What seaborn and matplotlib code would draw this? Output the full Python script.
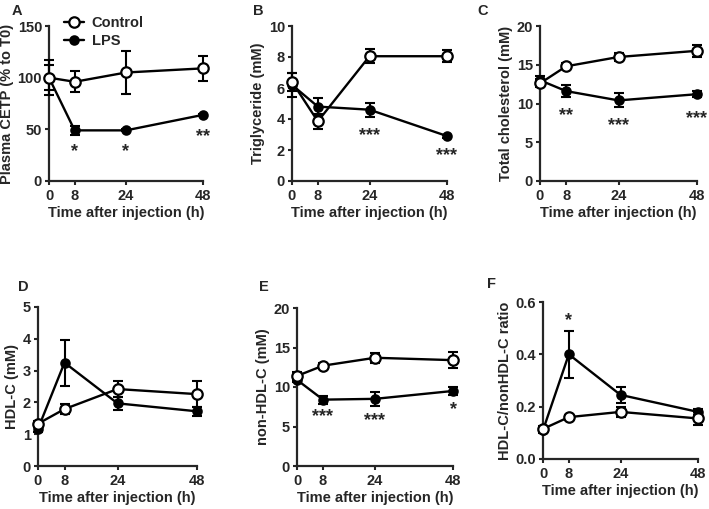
import numpy as np
import pandas as pd
import matplotlib.pyplot as plt
import seaborn as sns

sns.set_style("ticks")
plt.rcParams['font.family'] = ['Liberation Sans', 'DejaVu Sans']
plt.rcParams['font.weight'] = 'bold'
plt.rcParams['axes.labelweight'] = 'bold'
plt.rcParams['font.size'] = 9

# time points (h)
time_h = [0, 8, 24, 48]

# A - plasma CETP (% to T0)
cetp_ctrl = [100, 96, 105, 109]
cetp_ctrl_sd = [17, 10, 21, 12]
cetp_lps = [100, 49, 49, 64]
cetp_lps_sd = [12, 4, 1, 1]

# B - triglyceride (mM)
tg_ctrl = [6.4, 3.85, 8.05, 8.05]
tg_ctrl_sd = [0.6, 0.5, 0.45, 0.4]
tg_lps = [6.2, 4.8, 4.6, 2.9]
tg_lps_sd = [0.75, 0.55, 0.45, 0.1]

# C - total cholesterol (mM)
tc_ctrl = [12.6, 14.8, 16.0, 16.8]
tc_ctrl_sd = [0.5, 0.4, 0.5, 0.8]
tc_lps = [13.0, 11.6, 10.4, 11.2]
tc_lps_sd = [0.6, 0.8, 0.9, 0.4]

# D - HDL-C (mM)
hdl_ctrl = [1.33, 1.79, 2.42, 2.26]
hdl_ctrl_sd = [0.1, 0.15, 0.25, 0.4]
hdl_lps = [1.17, 3.25, 1.97, 1.72]
hdl_lps_sd = [0.1, 0.72, 0.2, 0.15]

# E - non-HDL-C (mM)
nhdl_ctrl = [11.4, 12.7, 13.7, 13.4]
nhdl_ctrl_sd = [0.5, 0.3, 0.6, 1.0]
nhdl_lps = [10.9, 8.4, 8.5, 9.5]
nhdl_lps_sd = [0.3, 0.5, 0.9, 0.5]

# F - HDL-C/nonHDL-C ratio
ratio_ctrl = [0.115, 0.16, 0.18, 0.155]
ratio_ctrl_sd = [0.01, 0.01, 0.02, 0.025]
ratio_lps = [0.11, 0.40, 0.245, 0.18]
ratio_lps_sd = [0.01, 0.09, 0.032, 0.01]

# significance marks: (time, y, text)
stars_a = [(8, 28, '*'), (24, 28, '*'), (48, 43, '**')]
stars_b = [(24, 2.9, '***'), (48, 1.65, '***')]
stars_c = [(8, 8.5, '**'), (24, 7.1, '***'), (48, 8.1, '***')]
stars_d = []
stars_e = [(8, 6.2, '***'), (24, 5.7, '***'), (48, 7.2, '*')]
stars_f = [(8, 0.53, '*')]

panels = [
    dict(letter='A', ylabel='Plasma CETP (% to T0)', ylim=150, yticks=[0, 50, 100, 150],
         ctrl=cetp_ctrl, ctrl_sd=cetp_ctrl_sd, lps=cetp_lps, lps_sd=cetp_lps_sd, stars=stars_a,
         box=(49, 26, 203, 181), letter_xy=(12, 4)),
    dict(letter='B', ylabel='Triglyceride (mM)', ylim=10, yticks=[0, 2, 4, 6, 8, 10],
         ctrl=tg_ctrl, ctrl_sd=tg_ctrl_sd, lps=tg_lps, lps_sd=tg_lps_sd, stars=stars_b,
         box=(292, 26, 447, 181), letter_xy=(253, 4)),
    dict(letter='C', ylabel='Total cholesterol (mM)', ylim=20, yticks=[0, 5, 10, 15, 20],
         ctrl=tc_ctrl, ctrl_sd=tc_ctrl_sd, lps=tc_lps, lps_sd=tc_lps_sd, stars=stars_c,
         box=(540, 26, 697, 181), letter_xy=(477, 4)),
    dict(letter='D', ylabel='HDL-C (mM)', ylim=5, yticks=[0, 1, 2, 3, 4, 5],
         ctrl=hdl_ctrl, ctrl_sd=hdl_ctrl_sd, lps=hdl_lps, lps_sd=hdl_lps_sd, stars=stars_d,
         box=(38, 307, 197, 466), letter_xy=(18, 280)),
    dict(letter='E', ylabel='non-HDL-C (mM)', ylim=20, yticks=[0, 5, 10, 15, 20],
         ctrl=nhdl_ctrl, ctrl_sd=nhdl_ctrl_sd, lps=nhdl_lps, lps_sd=nhdl_lps_sd, stars=stars_e,
         box=(297, 308, 453, 466), letter_xy=(259, 280)),
    dict(letter='F', ylabel='HDL-C/nonHDL-C ratio', ylim=0.6, yticks=[0.0, 0.2, 0.4, 0.6],
         ctrl=ratio_ctrl, ctrl_sd=ratio_ctrl_sd, lps=ratio_lps, lps_sd=ratio_lps_sd, stars=stars_f,
         box=(543, 302, 698, 459), letter_xy=(487, 277)),
]

W, H = 709, 509
fig = plt.figure(figsize=(W / 100, H / 100), dpi=100)

for p in panels:
    x0, y0, x1, y1 = p['box']
    ax = fig.add_axes([x0 / W, (H - y1) / H, (x1 - x0) / W, (y1 - y0) / H])

    df = pd.DataFrame({
        'time': time_h * 2,
        'value': p['lps'] + p['ctrl'],
        'sd': p['lps_sd'] + p['ctrl_sd'],
        'group': ['LPS'] * 4 + ['Control'] * 4,
    })

    for grp, face, ms, z in [('LPS', 'black', 6, 3), ('Control', 'white', 7.5, 4)]:
        sub = df[df['group'] == grp]
        ax.errorbar(sub['time'], sub['value'], yerr=sub['sd'], fmt='none', ecolor='black',
                    elinewidth=1.5, capsize=3.5, capthick=1.5, zorder=z, clip_on=False)
        sns.lineplot(data=sub, x='time', y='value', ax=ax, color='black', linewidth=1.7,
                     marker='o', markersize=ms, markerfacecolor=face, markeredgecolor='black',
                     markeredgewidth=1.6, label=grp, zorder=z + 0.5, clip_on=False)

    for tx, ty, s in p['stars']:
        ax.text(tx, ty, s, ha='center', va='center', fontsize=13, fontweight='bold')

    ax.set_xlim(0, 48)
    ax.set_ylim(0, p['ylim'])
    ax.set_xticks(time_h)
    ax.set_yticks(p['yticks'])
    if p['letter'] == 'F':
        ax.set_yticklabels([f'{t:.1f}' for t in p['yticks']])
    ax.tick_params(width=1.5, length=3, labelsize=10.5)
    ax.tick_params(axis='y', pad=2)
    ax.tick_params(axis='x', pad=3)
    for sp in ['left', 'bottom']:
        ax.spines[sp].set_linewidth(1.6)
    sns.despine(ax=ax)
    ax.set_xlabel('Time after injection (h)', fontsize=10.5, labelpad=2)
    ax.set_ylabel(p['ylabel'], fontsize=10.5, labelpad=2.5)

    if p['letter'] == 'A':
        handles, labels = ax.get_legend_handles_labels()
        ax.legend(handles[::-1], labels[::-1], loc='upper left', bbox_to_anchor=(0.06, 1.1),
                  frameon=False, handlelength=1.4, handletextpad=0.5, borderaxespad=0,
                  labelspacing=0.25, prop={'weight': 'bold', 'size': 10.5})
    else:
        ax.get_legend().remove()

    lx, ly = p['letter_xy']
    fig.text(lx / W, 1 - ly / H, p['letter'], ha='left', va='top', fontsize=10.5,
             fontweight='bold')

fig.savefig('out.png', dpi=100)
